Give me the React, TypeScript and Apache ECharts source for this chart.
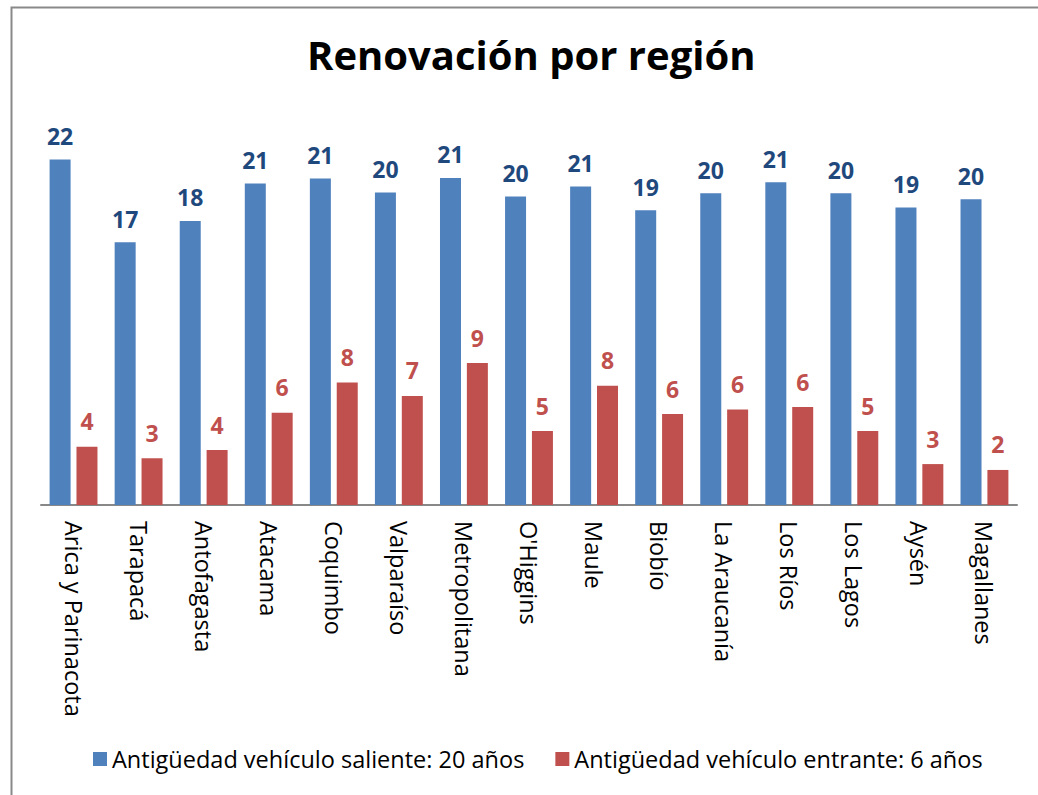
import React, { useEffect, useRef } from "react";
import * as echarts from "echarts";

const categories = [
  "Arica y Parinacota",
  "Tarapacá",
  "Antofagasta",
  "Atacama",
  "Coquimbo",
  "Valparaíso",
  "Metropolitana",
  "O'Higgins",
  "Maule",
  "Biobío",
  "La Araucanía",
  "Los Ríos",
  "Los Lagos",
  "Aysén",
  "Magallanes",
];

const salienteName = "Antigüedad vehículo saliente: 20 años";
const entranteName = "Antigüedad vehículo entrante: 6 años";

const saliente = [22.38, 17.02, 18.4, 20.82, 21.15, 20.24, 21.18, 19.98, 20.63, 19.09, 20.19, 20.91, 20.19, 19.27, 19.81];
const entrante = [3.77, 3.02, 3.56, 5.97, 7.94, 7.06, 9.19, 4.79, 7.72, 5.89, 6.19, 6.34, 4.79, 2.65, 2.27];

const titleText = "Renovación por región";

export default function App() {
  const ref = useRef<HTMLDivElement>(null);
  useEffect(() => {
    document.body.style.margin = "0";
    if (!ref.current) return;
    const chart = echarts.init(ref.current, null, { renderer: "svg" });
    const font = "'Open Sans', Roboto, sans-serif";
    chart.setOption({
      animation: false,
      backgroundColor: "#ffffff",
      title: {
        text: titleText,
        left: 302,
        top: 29,
        textStyle: { fontFamily: font, fontWeight: "bold", fontSize: 40, color: "#000" },
      },
      graphic: [
        {
          type: "rect",
          shape: { x: 11.5, y: 7.5, width: 1100, height: 900 },
          style: { fill: "none", stroke: "#898989", lineWidth: 2 },
          silent: true,
        },
      ],
      legend: {
        left: 88,
        top: 742,
        itemWidth: 14,
        itemHeight: 14,
        itemGap: 31,
        icon: "rect",
        textStyle: { fontFamily: font, fontSize: 23.5, color: "#000" },
        data: [salienteName, entranteName],
      },
      grid: { left: 41, right: 21, top: 119, bottom: 290, containLabel: false },
      xAxis: {
        type: "category",
        data: categories,
        axisLine: { show: true, lineStyle: { color: "#888888", width: 2 } },
        axisTick: { show: false },
        axisLabel: {
          rotate: -90,
          interval: 0,
          margin: 16,
          fontFamily: font,
          fontSize: 23.5,
          color: "#000",
        },
      },
      yAxis: {
        type: "value",
        min: 0,
        max: 25,
        show: false,
        splitLine: { show: false },
      },
      series: [
        {
          name: salienteName,
          type: "bar",
          data: saliente,
          barWidth: 21,
          barGap: "28%",
          itemStyle: { color: "#4F81BD" },
          label: {
            show: true,
            position: "top",
            distance: 12,
            fontFamily: font,
            fontWeight: "bold",
            fontSize: 23,
            color: "#1F497D",
            formatter: (p: any) => String(Math.round(p.value)),
          },
        },
        {
          name: entranteName,
          type: "bar",
          data: entrante,
          barWidth: 21,
          itemStyle: { color: "#C0504D" },
          label: {
            show: true,
            position: "top",
            distance: 14,
            fontFamily: font,
            fontWeight: "bold",
            fontSize: 23,
            color: "#C0504D",
            formatter: (p: any) => String(Math.round(p.value)),
          },
        },
      ],
    });
    return () => chart.dispose();
  }, []);
  return <div ref={ref} style={{ width: 1038, height: 795 }} />;
}
